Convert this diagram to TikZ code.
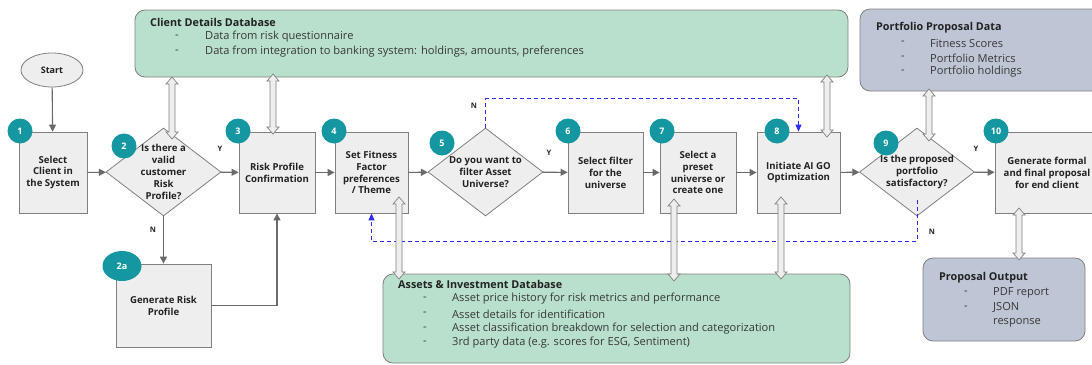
\documentclass[tikz,border=0pt]{standalone}
\usepackage{fontspec}
\setmainfont{Open Sans}
\usetikzlibrary{shapes.geometric,arrows.meta,calc}
\definecolor{boxfill}{HTML}{EEEEEE}
\definecolor{boxdraw}{HTML}{808080}
\definecolor{arrgray}{HTML}{6A6A6A}
\definecolor{teal}{HTML}{1597A1}
\definecolor{dbgreen}{HTML}{B8E0CD}
\definecolor{slate}{HTML}{BEC5D4}
\definecolor{dashblue}{HTML}{2D2DF5}
\definecolor{txt}{HTML}{222222}
\newcommand{\dbarrow}[2]{%
  \filldraw[fill=boxfill,draw=boxdraw,line width=0.7pt]
    (#1) -- ($(#1)+(6,7)$) -- ($(#1)+(3,7)$) -- ($(#2)+(3,-7)$) -- ($(#2)+(6,-7)$)
    -- (#2) -- ($(#2)+(-6,-7)$) -- ($(#2)+(-3,-7)$) -- ($(#1)+(-3,7)$) -- ($(#1)+(-6,7)$) -- cycle;}
\begin{document}
\begin{tikzpicture}[x=1pt,y=-1pt,
  stepbox/.style={draw=boxdraw,fill=boxfill,line width=0.8pt,align=center,inner sep=0pt,
    text=txt,font=\fontsize{9.6}{11.9}\selectfont\bfseries},
  dia/.style={diamond,draw=boxdraw,fill=boxfill,line width=0.8pt,inner sep=0pt,
    minimum width=115pt,minimum height=88pt},
  diatext/.style={align=center,text=txt,font=\fontsize{9.6}{11.9}\selectfont\bfseries,inner sep=0pt},
  badge/.style={circle,fill=teal,text=white,minimum size=25pt,inner sep=0pt,
    font=\fontsize{9}{10}\selectfont\bfseries},
  flow/.style={draw=arrgray,line width=1.1pt,-{Triangle[length=7pt,width=7pt]}},
  dashflow/.style={draw=dashblue,line width=0.9pt,dash pattern=on 4pt off 3pt,
    -{Triangle[length=7pt,width=6pt]}},
  yn/.style={font=\fontsize{7.5}{8}\selectfont\bfseries,text=txt,inner sep=0pt},
  db/.style={draw=boxdraw,line width=0.8pt,rounded corners=10pt},
  dbtitle/.style={anchor=west,inner sep=0pt,text=txt,font=\fontsize{10.8}{12}\selectfont\bfseries},
  dbitem/.style={anchor=west,inner sep=0pt,text=txt!90,font=\fontsize{11.1}{12}\selectfont},
]
\useasboundingbox (0,0) rectangle (1092,364);

% databases
\draw[db,fill=dbgreen] (135,10) rectangle (848,77);
\node[dbtitle] (cdb) at (150,22) {Client Details Database};
\node[dbitem] (cdbd1) at (175,37) {-};
\node[dbitem] (cdb1) at (205,37) {Data from risk questionnaire};
\node[dbitem] (cdbd2) at (175,52) {-};
\node[dbitem] (cdb2) at (205,52) {Data from integration to banking system: holdings, amounts, preferences};

\draw[db,fill=slate] (860,9) rectangle (1105,91);
\node[dbtitle] (ppd) at (876,28) {Portfolio Proposal Data};
\node[dbitem] (ppdd1) at (901,43) {-};
\node[dbitem] (ppd1) at (930,43) {Fitness Scores};
\node[dbitem] (ppdd2) at (901,58) {-};
\node[dbitem] (ppd2) at (930,58) {Portfolio Metrics};
\node[dbitem] (ppdd3) at (901,72) {-};
\node[dbitem] (ppd3) at (930,72) {Portfolio holdings};

\draw[db,fill=slate] (923,258) rectangle (1085,341);
\node[dbtitle] (po) at (939,278) {Proposal Output};
\node[dbitem] (pod1) at (964,293) {-};
\node[dbitem] (po1) at (993,293) {PDF report};
\node[dbitem] (pod2) at (964,308) {-};
\node[dbitem] (po2) at (993,308) {JSON};
\node[dbitem] (po3) at (993,323) {response};

\draw[db,fill=dbgreen] (383,274) rectangle (850,363);
\node[dbtitle] (aid) at (398,284) {Assets \& Investment Database};
\node[dbitem] (aidd1) at (423,299) {-};
\node[dbitem] (aid1) at (452,299) {Asset price history for risk metrics and performance};
\node[dbitem] (aidd2) at (423,314) {-};
\node[dbitem] (aid2) at (452,314) {Asset details for identification};
\node[dbitem] (aidd3) at (423,329) {-};
\node[dbitem] (aid3) at (452,329) {Asset classification breakdown for selection and categorization};
\node[dbitem] (aidd4) at (423,343) {-};
\node[dbitem] (aid4) at (452,343) {3rd party data (e.g. scores for ESG, Sentiment)};

% start
\node[ellipse,draw=boxdraw,fill=boxfill,line width=0.8pt,minimum width=62pt,minimum height=34pt,
  inner sep=0pt,text=txt,font=\fontsize{9}{10}\selectfont\bfseries] (start) at (52,70) {Start};

% steps
\node[stepbox,minimum width=68pt,minimum height=81pt] (b1) at (53,172.5) {Select\\Client in\\the System};
\node[dia] (d2) at (163.5,172) {};
\node[diatext] (d2t) at (163.5,172) {Is there a\\valid\\customer\\Risk\\Profile?};
\node[stepbox,minimum width=76pt,minimum height=81pt] (b3) at (277,172.5) {Risk Profile\\Confirmation};
\node[stepbox,minimum width=95pt,minimum height=83pt] (b2a) at (163.5,305.5) {Generate Risk\\Profile};
\node[stepbox,minimum width=73pt,minimum height=81pt] (b4) at (371.5,172.5) {Set Fitness\\Factor\\preferences\\/ Theme};
\node[dia] (d5) at (485.5,172) {};
\node[diatext] (d5t) at (485.5,172) {Do you want to\\filter Asset\\Universe?};
\node[stepbox,minimum width=75pt,minimum height=81pt] (b6) at (605.5,172.5) {Select filter\\for the\\universe};
\node[stepbox,minimum width=76pt,minimum height=81pt] (b7) at (698,172.5) {Select a\\preset\\universe or\\create one};
\node[stepbox,minimum width=83pt,minimum height=81pt] (b8) at (798.5,172.5) {Initiate AI GO\\Optimization};
\node[dia] (d9) at (917,172) {};
\node[diatext] (d9t) at (917,172) {Is the proposed\\portfolio\\satisfactory?};
\node[stepbox,minimum width=104pt,minimum height=81pt] (b10) at (1047,172.5) {Generate formal\\and final proposal\\for end client};

% badges
\node[badge] (n1) at (20,131) {1};
\node[badge] (n2) at (124,146) {2};
\node[badge] (n3) at (238,131) {3};
\node[badge,ellipse,minimum width=39pt,minimum height=30pt] (n2a) at (122,266) {2a};
\node[badge] (n4) at (334,131) {4};
\node[badge] (n5) at (442,143) {5};
\node[badge] (n6) at (568,131) {6};
\node[badge] (n7) at (662,131) {7};
\node[badge] (n8) at (777,131) {8};
\node[badge] (n9) at (886,143) {9};
\node[badge] (n10) at (996,131) {10};

% flow arrows
\draw[flow] (start) -- (b1);
\draw[flow] (b1) -- (d2);
\draw[flow] (d2) -- (b3);
\draw[flow] (d2) -- (b2a);
\draw[flow] (b2a.east) -| (b3.south);
\draw[flow] (b3) -- (b4);
\draw[flow] (b4) -- (d5);
\draw[flow] (d5) -- (b6);
\draw[flow] (b6) -- (b7);
\draw[flow] (b7) -- (b8);
\draw[flow] (b8) -- (d9);
\draw[flow] (d9) -- (b10);

% dashed returns
\draw[dashflow] (d5.north) -- ++(0,-29) -| (b8.north);
\draw[dashflow] ([yshift=16pt]d9.south) -- ++(0,41) -| (b4.south);

% labels
\node[yn] (y2) at (220,149) {Y};
\node[yn] (no2) at (153,230) {N};
\node[yn] (no5) at (474,106) {N};
\node[yn] (y5) at (549,153) {Y};
\node[yn] (y9) at (976,149) {Y};
\node[yn] (no9) at (932,232) {N};

% double arrows
\coordinate (a2t) at (172,77);  \coordinate (a2b) at (172,139);
\coordinate (a3t) at (273,74);  \coordinate (a3b) at (273,134);
\coordinate (a8t) at (827,75);  \coordinate (a8b) at (827,137);
\coordinate (a9t) at (929,89);  \coordinate (a9b) at (929,141);
\coordinate (a10t) at (1019,208); \coordinate (a10b) at (1019,260);
\coordinate (a4t) at (399,197); \coordinate (a4b) at (399,279);
\coordinate (a7t) at (674,199); \coordinate (a7b) at (674,281);
\coordinate (a8lt) at (781,197); \coordinate (a8lb) at (781,279);
\dbarrow{a2t}{a2b}
\dbarrow{a3t}{a3b}
\dbarrow{a8t}{a8b}
\dbarrow{a9t}{a9b}
\dbarrow{a10t}{a10b}
\dbarrow{a4t}{a4b}
\dbarrow{a7t}{a7b}
\dbarrow{a8lt}{a8lb}
\end{tikzpicture}
\end{document}
